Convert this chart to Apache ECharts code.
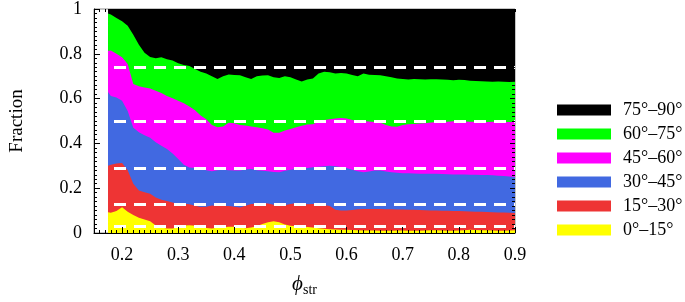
<!DOCTYPE html>
<html>
<head>
<meta charset="utf-8">
<script src="https://cdn.jsdelivr.net/npm/echarts@6/dist/echarts.min.js"></script>
<style>
  html, body { margin: 0; padding: 0; background: #fff; }
  #chart { width: 685px; height: 302px; }
</style>
</head>
<body>
<div id="chart"></div>
<script>
// phi_str sample positions
const phi = [0.175, 0.18, 0.19, 0.20, 0.21, 0.22, 0.23, 0.24, 0.25, 0.26,
  0.27, 0.28, 0.29, 0.30, 0.31, 0.32, 0.33, 0.34, 0.35, 0.36,
  0.37, 0.38, 0.39, 0.40, 0.41, 0.42, 0.43, 0.44, 0.45, 0.46,
  0.47, 0.48, 0.49, 0.50, 0.51, 0.52, 0.53, 0.54, 0.55, 0.56,
  0.57, 0.58, 0.59, 0.60, 0.61, 0.62, 0.63, 0.64, 0.65, 0.66,
  0.67, 0.68, 0.69, 0.70, 0.71, 0.72, 0.73, 0.74, 0.75, 0.76,
  0.77, 0.78, 0.79, 0.80, 0.81, 0.82, 0.83, 0.84, 0.85, 0.86,
  0.87, 0.88, 0.89, 0.90];

// cumulative fractions (top edge of each band)
const upTo75 = [.98, .975, .96, .945, .925, .885, .84, .805, .786, .78,
  .785, .776, .77, .758, .75, .745, .732, .72, .712, .70,
  .688, .70, .708, .705, .704, .695, .688, .70, .703, .704,
  .695, .692, .70, .695, .685, .676, .685, .69, .712, .72,
  .718, .712, .714, .712, .705, .70, .712, .706, .705, .704,
  .70, .695, .69, .687, .685, .688, .686, .685, .686, .686,
  .685, .684, .682, .684, .683, .68, .679, .678, .676, .675,
  .676, .675, .674, .675];
const upTo60 = [.814, .815, .80, .785, .755, .665, .655, .65, .645, .635,
  .625, .612, .602, .59, .579, .565, .548, .525, .508, .482,
  .472, .476, .492, .49, .482, .48, .476, .472, .468, .462,
  .447, .448, .458, .464, .472, .479, .484, .486, .497, .504,
  .508, .511, .513, .511, .505, .50, .50, .498, .496, .492,
  .482, .476, .474, .482, .485, .487, .489, .49, .493, .495,
  .496, .497, .499, .498, .498, .497, .497, .496, .496, .497,
  .496, .496, .495, .496];
const upTo45 = [.629, .612, .605, .59, .545, .47, .45, .436, .425, .405,
  .39, .375, .355, .33, .305, .292, .29, .286, .28, .276,
  .28, .282, .28, .279, .279, .283, .286, .28, .278, .276,
  .272, .271, .278, .282, .286, .288, .29, .294, .296, .298,
  .30, .298, .295, .29, .282, .276, .271, .275, .279, .279,
  .274, .271, .269, .267, .267, .266, .265, .264, .264, .264,
  .263, .262, .261, .261, .261, .26, .26, .259, .259, .258,
  .256, .254, .252, .25];
const upTo30 = [.30, .305, .31, .312, .28, .22, .19, .182, .175, .158,
  .148, .143, .136, .13, .131, .128, .122, .116, .117, .123,
  .122, .12, .121, .117, .114, .122, .129, .131, .133, .132,
  .126, .121, .124, .13, .133, .13, .128, .129, .128, .125,
  .12, .104, .10, .101, .103, .106, .107, .107, .107, .107,
  .106, .106, .105, .105, .104, .104, .103, .102, .101, .10,
  .099, .099, .098, .098, .097, .096, .095, .095, .094, .093,
  .092, .091, .09, .089];
const upTo15 = [.093, .09, .098, .115, .095, .08, .068, .06, .052, .034,
  .024, .02, .02, .026, .034, .035, .032, .028, .022, .02,
  .023, .026, .028, .028, .024, .021, .025, .03, .04, .048,
  .052, .048, .038, .032, .03, .029, .027, .024, .021, .019,
  .017, .016, .015, .014, .013, .012, .011, .011, .011, .01,
  .01, .01, .011, .011, .01, .01, .01, .011, .012, .012,
  .011, .01, .01, .011, .012, .014, .013, .012, .012, .011,
  .01, .01, .011, .012];
const upTo90 = phi.map(() => 1);

const bandNames = ['75°–90°', '60°–75°', '45°–60°', '30°–45°', '15°–30°', '0°–15°'];
const bandTops = [upTo90, upTo75, upTo60, upTo45, upTo30, upTo15];
const bandColors = ['#000000', '#00ff00', '#ff00ff', '#4169e1', '#ee3434', '#ffff00'];

// isotropic reference levels
const refLevels = [0.034, 0.134, 0.293, 0.5, 0.741];

const xLabels = [0.2, 0.3, 0.4, 0.5, 0.6, 0.7, 0.8, 0.9];
const xMinor = [];
for (let i = 15; i <= 90; i++) xMinor.push(i / 100);

const font = 'Liberation Serif';

const series = bandNames.map((name, k) => {
  const s = {
    name: name,
    type: 'line',
    showSymbol: false,
    symbol: 'none',
    silent: true,
    animation: false,
    lineStyle: { width: 0 },
    itemStyle: { color: bandColors[k] },
    areaStyle: { color: bandColors[k], opacity: 1 },
    data: phi.map((x, i) => [x, bandTops[k][i]])
  };
  if (k === bandNames.length - 1) {
    s.markLine = {
      silent: true,
      symbol: 'none',
      label: { show: false },
      animation: false,
      lineStyle: { color: '#ffffff', width: 3, type: [12, 8] },
      data: refLevels.map(v => ({ yAxis: v }))
    };
  }
  return s;
});

const chart = echarts.init(document.getElementById('chart'));
chart.setOption({
  animation: false,
  backgroundColor: '#ffffff',
  grid: { left: 87, right: 170, top: 7, bottom: 62, show: true, borderColor: '#8c8c8c', borderWidth: 1 },
  legend: {
    orient: 'vertical',
    left: 552,
    top: 95,
    icon: 'rect',
    itemWidth: 54,
    itemHeight: 11,
    itemGap: 4,
    selectedMode: false,
    textStyle: { fontFamily: font, fontSize: 18, color: '#000', lineHeight: 20, padding: [0, 0, 0, 7] },
    data: bandNames.map((n, k) => ({ name: n, itemStyle: { color: bandColors[k] } }))
  },
  xAxis: [
    {
      type: 'value', min: 0.15, max: 0.9, z: 10,
      name: '{phi|ϕ}{sub|str}',
      nameLocation: 'middle',
      nameGap: 38,
      nameTextStyle: {
        rich: {
          phi: { fontFamily: font, fontStyle: 'italic', fontSize: 21, color: '#000' },
          sub: { fontFamily: font, fontSize: 14, color: '#000', verticalAlign: 'bottom', padding: [12, 0, 0, 0] }
        }
      },
      axisLine: { show: true, lineStyle: { color: '#000', width: 1 } },
      axisTick: { show: true, inside: true, length: 6, customValues: xLabels, lineStyle: { color: '#000' } },
      axisLabel: { customValues: xLabels, fontFamily: font, fontSize: 18, color: '#000', margin: 13 },
      splitLine: { show: false }
    },
    {
      type: 'value', min: 0.15, max: 0.9, z: 10, position: 'bottom',
      axisLine: { show: false },
      axisTick: { show: true, inside: true, length: 3, customValues: xMinor, lineStyle: { color: '#000' } },
      axisLabel: { show: false },
      splitLine: { show: false }
    },
    {
      type: 'value', min: 0.15, max: 0.9, z: 10, position: 'top',
      axisLine: { show: false },
      axisTick: { show: true, inside: true, length: 3, customValues: xMinor, lineStyle: { color: '#000' } },
      axisLabel: { show: false },
      splitLine: { show: false }
    }
  ],
  yAxis: [
    {
      type: 'value', min: 0, max: 1, interval: 0.2, z: 10,
      name: 'Fraction',
      nameLocation: 'middle',
      nameGap: 67,
      nameTextStyle: { fontFamily: font, fontSize: 19, color: '#000' },
      axisLine: { show: true, lineStyle: { color: '#000', width: 1 } },
      axisTick: { show: true, inside: true, length: 6, lineStyle: { color: '#000' } },
      minorTick: { show: true, splitNumber: 10, length: 3, lineStyle: { color: '#000' } },
      axisLabel: { fontFamily: font, fontSize: 18, color: '#000', margin: 12 },
      splitLine: { show: false },
      minorSplitLine: { show: false }
    },
    {
      type: 'value', min: 0, max: 1, interval: 0.2, z: 10, position: 'right',
      axisLine: { show: false },
      axisTick: { show: true, inside: true, length: 5, lineStyle: { color: '#000' } },
      minorTick: { show: true, splitNumber: 10, length: 3, lineStyle: { color: '#000' } },
      axisLabel: { show: false },
      splitLine: { show: false },
      minorSplitLine: { show: false }
    }
  ],
  series: series
});
</script>
</body>
</html>
